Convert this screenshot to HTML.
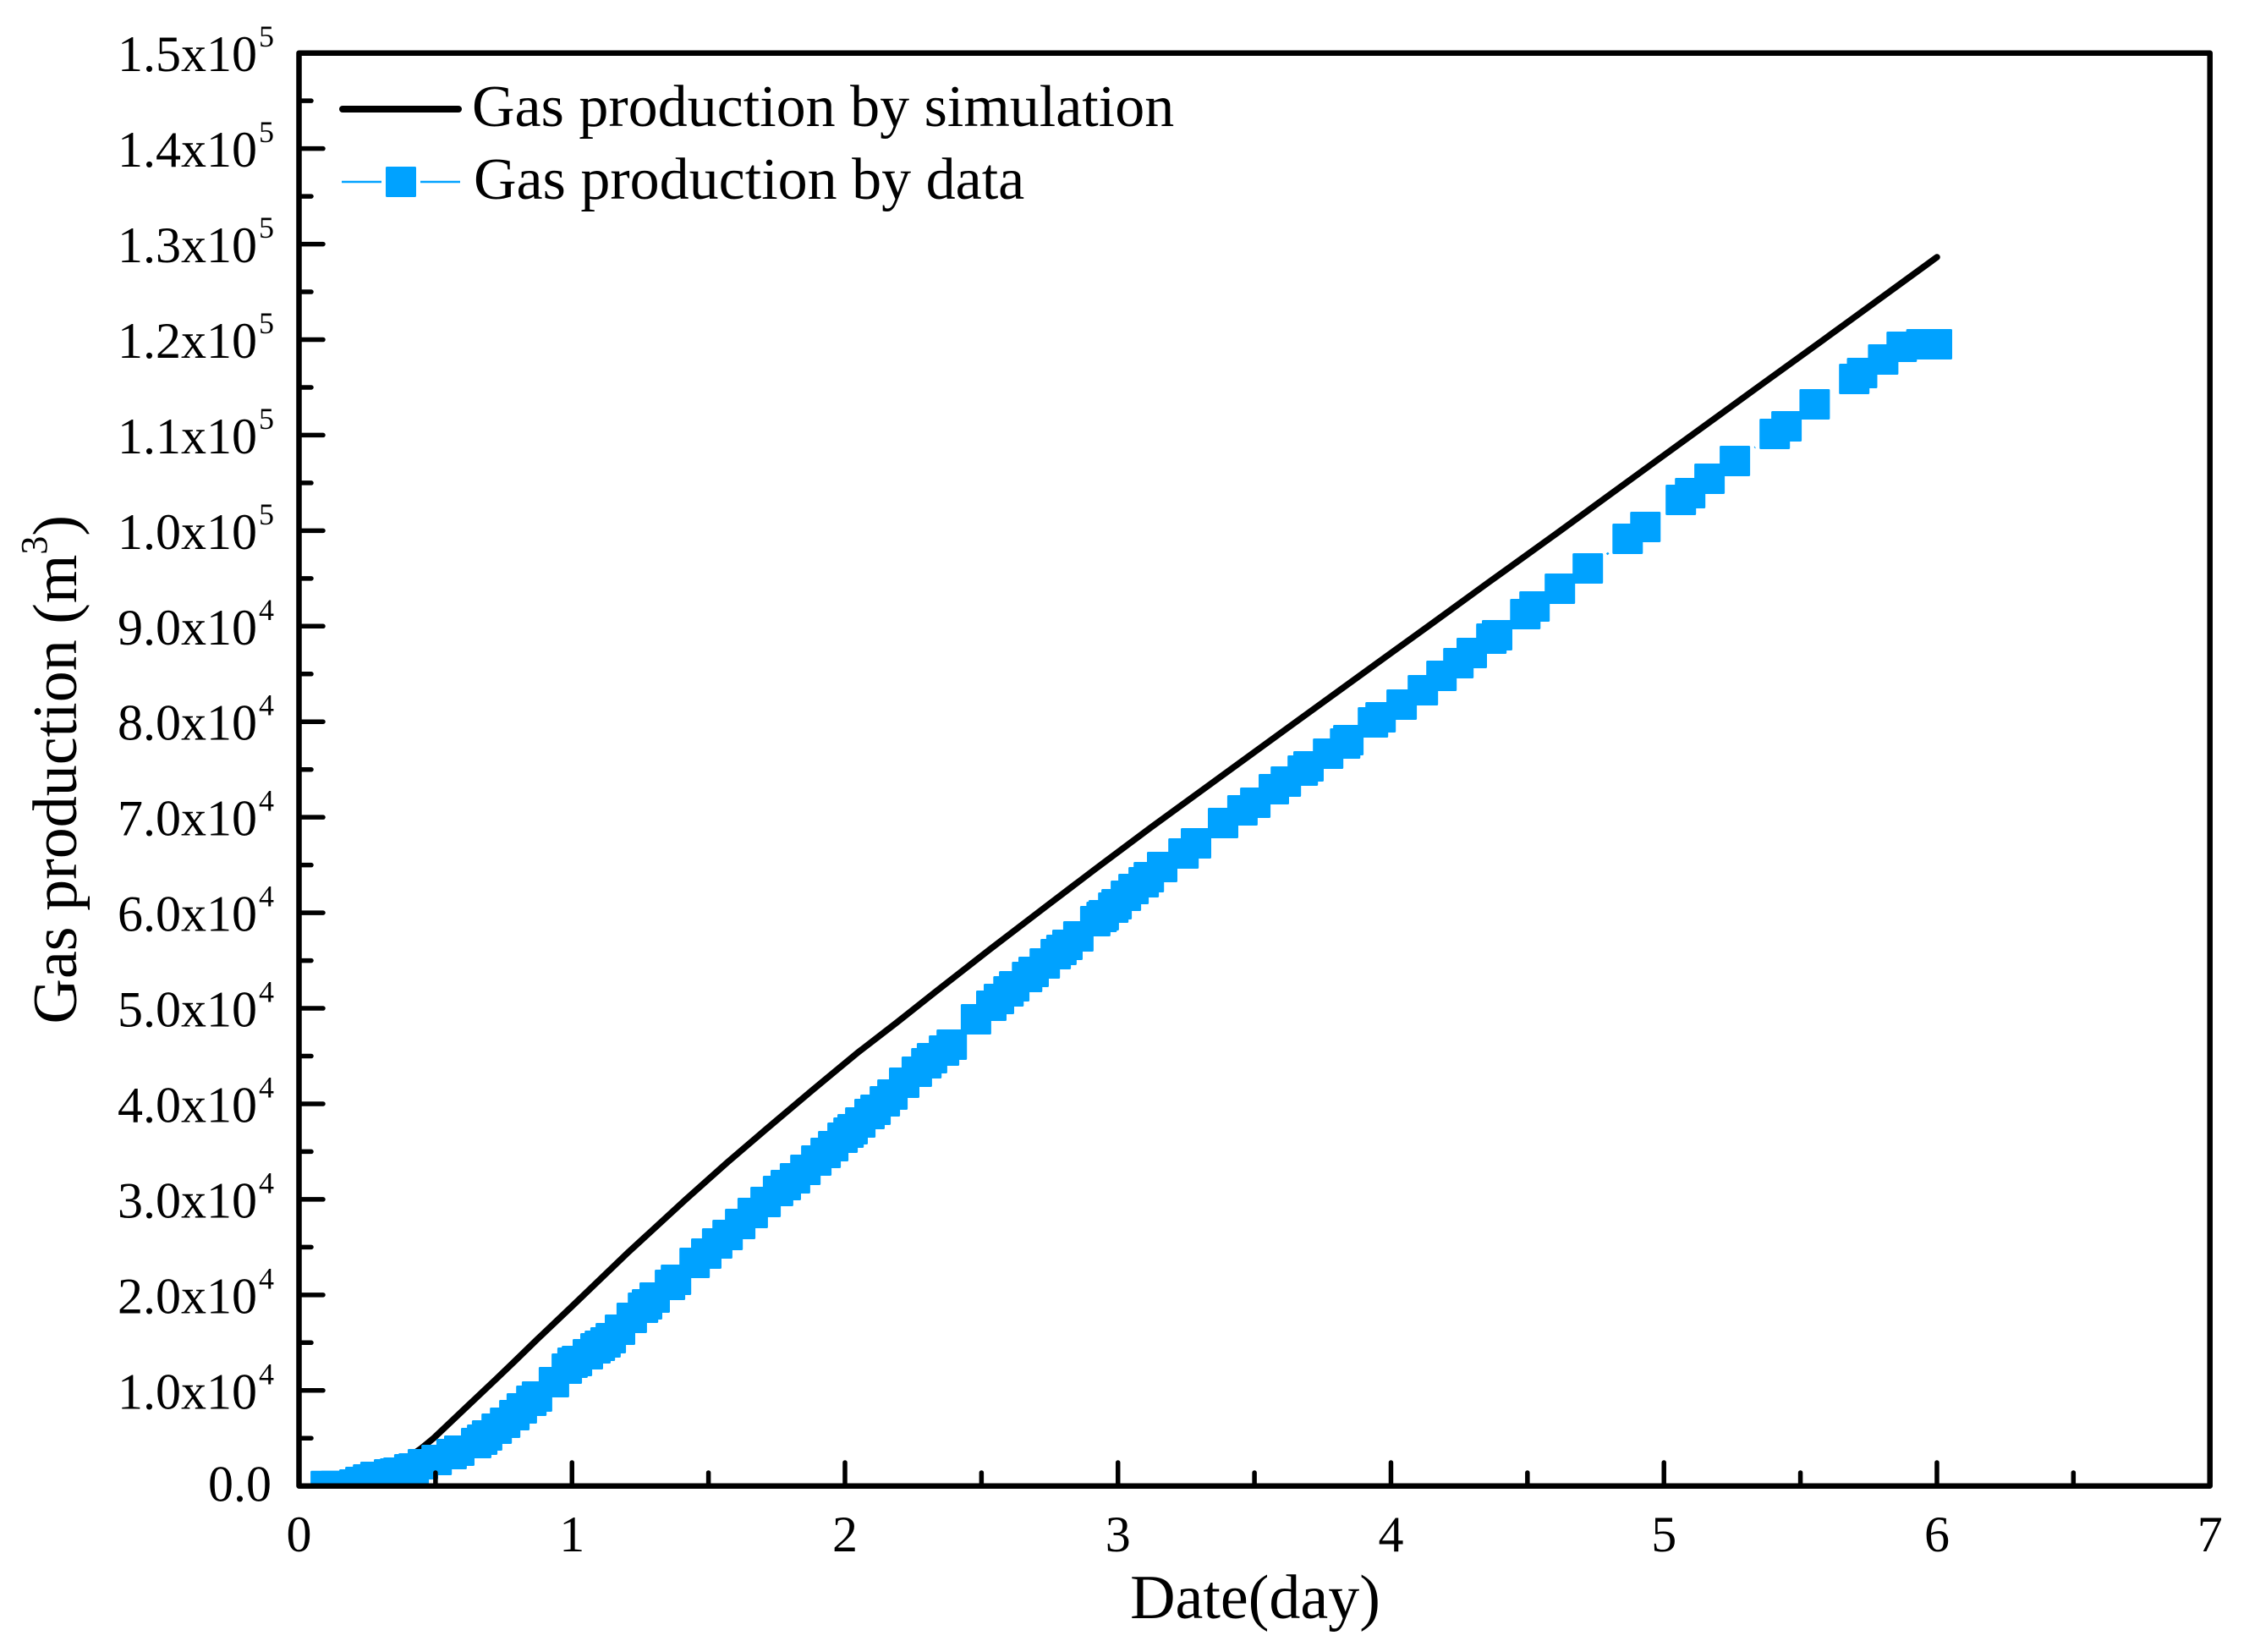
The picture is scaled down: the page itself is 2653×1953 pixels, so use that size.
<!DOCTYPE html>
<html lang="en">
<head>
<meta charset="utf-8">
<title>Gas production chart</title>
<style>
html,body{margin:0;padding:0;background:#fff;}
svg{display:block;}
text{font-family:"Liberation Serif","Times New Roman",serif;fill:#000;}
</style>
</head>
<body>
<svg id="chart" xmlns="http://www.w3.org/2000/svg" width="2653" height="1953" viewBox="0 0 2653 1953">
  <rect x="0" y="0" width="2653" height="1953" fill="#ffffff"/>
  <defs><clipPath id="plot-clip"><rect x="353.5" y="62.7" width="2259.2" height="1694"/></clipPath></defs>
  <g id="series-layer" clip-path="url(#plot-clip)"></g>
  <rect x="353.5" y="62.7" width="2259.2" height="1694" fill="none" stroke="#000" stroke-width="6.5" stroke-linejoin="round"/>
  <g id="tick-layer"></g>
  <g id="label-layer" font-size="60"></g>
  <text x="1484" y="1913" font-size="74" text-anchor="middle">Date(day)</text>
  <text transform="translate(90 1210.5) rotate(-90)" font-size="74">Gas production (m<tspan font-size="44" dy="-35">3</tspan><tspan dy="35">)</tspan></text>
  <g>
    <line x1="405" y1="129" x2="542" y2="129" stroke="#000" stroke-width="8" stroke-linecap="round"/>
    <text x="558" y="149" font-size="70">Gas production by simulation</text>
    <line x1="404" y1="215" x2="451" y2="215" stroke="#00A2FF" stroke-width="2.5"/>
    <line x1="497" y1="215" x2="544" y2="215" stroke="#00A2FF" stroke-width="2.5"/>
    <rect x="456" y="197" width="36" height="36" rx="1.5" fill="#00A2FF"/>
    <text x="560" y="235" font-size="70">Gas production by data</text>
  </g>
</svg>
<script>
const simDays = [0.07,0.30,0.445,0.494,0.618,0.724,0.786,0.872,0.996,1.204,1.415,1.570,1.709,1.879,2.044,2.189,2.335,2.530,2.738,2.911,3.119,3.326,3.624,3.894,4.151,4.358,4.606,4.969,5.328,5.638,6.0];
const simGas = [0,1000,3870,5021,8386,11250,12950,15330,18700,24400,29950,33900,37300,41400,45300,48500,51800,56150,60700,64450,68900,73200,79400,85000,90300,94600,99700,107250,114700,121100,128630];
const dataDays = [0.098,0.135,0.203,0.225,0.253,0.280,0.330,0.352,0.364,0.404,0.420,0.454,0.504,0.559,0.587,0.649,0.671,0.689,0.724,0.755,0.789,0.816,0.851,0.872,0.934,0.981,1.002,1.018,1.058,1.086,1.102,1.123,1.142,1.176,1.219,1.260,1.275,1.303,1.359,1.381,1.449,1.492,1.532,1.570,1.616,1.662,1.709,1.755,1.783,1.817,1.855,1.895,1.929,1.957,1.991,2.013,2.028,2.056,2.090,2.112,2.146,2.174,2.217,2.263,2.298,2.319,2.363,2.391,2.480,2.536,2.564,2.599,2.620,2.667,2.691,2.732,2.772,2.793,2.815,2.855,2.917,2.940,2.948,2.983,2.995,3.029,3.057,3.094,3.113,3.162,3.240,3.286,3.385,3.456,3.503,3.571,3.615,3.677,3.698,3.770,3.832,3.844,3.934,3.962,4.039,4.117,4.185,4.247,4.296,4.368,4.389,4.492,4.526,4.619,4.721,4.867,4.932,5.062,5.096,5.167,5.260,5.406,5.449,5.552,5.697,5.726,5.803,5.871,5.943,6.0];
const dataGas = [0,0,150,416,682,948,1213,1302,1390,1744,1833,2276,2718,3338,3692,4490,4844,5286,5994,6614,7411,8120,8917,9360,10865,12282,12902,13079,13787,14407,14672,15027,15469,16355,17595,18657,19011,19720,21048,21580,23351,24325,25387,26272,27423,28574,29725,30877,31497,32206,33091,34065,34862,35571,36456,36988,37342,38050,38936,39378,40264,40972,42212,43364,44248,44780,45577,46197,48853,50270,50978,51775,52307,53281,53812,54697,55671,56114,56646,57531,59125,59567,59745,60542,60896,61781,62490,63198,63730,64792,66209,67271,69397,70725,71522,72939,73736,74887,75330,76658,77720,78075,79934,80465,81794,83299,84804,86132,87195,88700,89055,91268,92065,93925,96050,99149,100389,103223,103931,105436,107296,110130,110927,113229,115885,116505,117922,119250,119517,119517];
const xTickValues = [0,1,2,3,4,5,6,7];
const xTickLabels = ['0','1','2','3','4','5','6','7'];
const xMinorValues = [0.5,1.5,2.5,3.5,4.5,5.5,6.5];
const yTickValues = [0,10000,20000,30000,40000,50000,60000,70000,80000,90000,100000,110000,120000,130000,140000,150000];
const yTickMantissas = ['0.0','1.0x10','2.0x10','3.0x10','4.0x10','5.0x10','6.0x10','7.0x10','8.0x10','9.0x10','1.0x10','1.1x10','1.2x10','1.3x10','1.4x10','1.5x10'];
const yTickExponents = ['','4','4','4','4','4','4','4','4','4','5','5','5','5','5','5'];
const yMinorValues = [5000,15000,25000,35000,45000,55000,65000,75000,85000,95000,105000,115000,125000,135000,145000];

const SVG_NS = 'http://www.w3.org/2000/svg';
const MARKER_GAP = 28;
const xAxis = function (v) { return 353.5 + (v / 7) * 2259.2; };
const yAxis = function (v) { return 1756.7 - (v / 150000) * 1694; };
const seriesLayer = document.getElementById('series-layer');
const tickLayer = document.getElementById('tick-layer');
const labelLayer = document.getElementById('label-layer');

function polyPoints(xs, ys) {
  return xs.map(function (x, i) { return xAxis(x).toFixed(1) + ',' + yAxis(ys[i]).toFixed(1); }).join(' ');
}

const simLine = document.createElementNS(SVG_NS, 'polyline');


simLine.setAttribute('points', polyPoints(simDays, simGas));
simLine.setAttribute('fill', 'none');
simLine.setAttribute('stroke', '#000');
simLine.setAttribute('stroke-width', '7.5');
simLine.setAttribute('stroke-linecap', 'round');
simLine.setAttribute('stroke-linejoin', 'round');
seriesLayer.appendChild(simLine);

dataDays.forEach(function (d, i) {
  if (i === 0) { return; }
  const x0 = xAxis(dataDays[i - 1]);
  const y0 = yAxis(dataGas[i - 1]);
  const x1 = xAxis(d);
  const y1 = yAxis(dataGas[i]);
  const len = Math.hypot(x1 - x0, y1 - y0);
  if (len <= MARKER_GAP * 2) { return; }
  const ux = (x1 - x0) / len;
  const uy = (y1 - y0) / len;
  const seg = document.createElementNS(SVG_NS, 'line');
  
  
  seg.setAttribute('x1', (x0 + ux * MARKER_GAP).toFixed(1));
  seg.setAttribute('y1', (y0 + uy * MARKER_GAP).toFixed(1));
  seg.setAttribute('x2', (x1 - ux * MARKER_GAP).toFixed(1));
  seg.setAttribute('y2', (y1 - uy * MARKER_GAP).toFixed(1));
  seg.setAttribute('stroke', '#00A2FF');
  seg.setAttribute('stroke-width', '2.5');
  seriesLayer.appendChild(seg);
});

dataDays.forEach(function (d, i) {
  const m = document.createElementNS(SVG_NS, 'rect');
  
  
  m.setAttribute('x', (xAxis(d) - 18).toFixed(1));
  m.setAttribute('y', (yAxis(dataGas[i]) - 18).toFixed(1));
  m.setAttribute('width', '36');
  m.setAttribute('height', '36');
  m.setAttribute('rx', '1.5');
  m.setAttribute('fill', '#00A2FF');
  seriesLayer.appendChild(m);
});

function drawTick(x1, y1, x2, y2, width, name) {
  const t = document.createElementNS(SVG_NS, 'line');
  
  
  t.setAttribute('x1', x1);
  t.setAttribute('y1', y1);
  t.setAttribute('x2', x2);
  t.setAttribute('y2', y2);
  t.setAttribute('stroke', '#000');
  t.setAttribute('stroke-width', width);
  t.setAttribute('stroke-linecap', 'round');
  tickLayer.appendChild(t);
}

function drawText(x, y, str, anchor, size, name) {
  const t = document.createElementNS(SVG_NS, 'text');
  
  
  t.setAttribute('x', x);
  t.setAttribute('y', y);
  t.setAttribute('text-anchor', anchor);
  t.setAttribute('font-size', size);
  t.textContent = str;
  labelLayer.appendChild(t);
}

xTickValues.forEach(function (v, i) {
  if (v > 0 && v < 7) { drawTick(xAxis(v), 1756.7, xAxis(v), 1729, 5.5, 'x-major-tick'); }
  drawText(xAxis(v), 1834, xTickLabels[i], 'middle', 60, 'x-tick-label');
});
xMinorValues.forEach(function (v) {
  drawTick(xAxis(v), 1756.7, xAxis(v), 1741, 5.5, 'x-minor-tick');
});
yTickValues.forEach(function (v, i) {
  if (v > 0 && v < 150000) { drawTick(353.5, yAxis(v), 382, yAxis(v), 5.5, 'y-major-tick'); }
  const baseY = yAxis(v) + 21.5;
  if (yTickExponents[i]) {
    drawText(304, baseY, yTickMantissas[i], 'end', 60, 'y-tick-label');
    drawText(306, yAxis(v) - 7.5, yTickExponents[i], 'start', 36, 'y-tick-exponent');
  } else {
    drawText(321, yAxis(v) + 18, yTickMantissas[i], 'end', 60, 'y-tick-label');
  }
});
yMinorValues.forEach(function (v) {
  drawTick(353.5, yAxis(v), 368, yAxis(v), 5.5, 'y-minor-tick');
});
</script>
</body>
</html>
